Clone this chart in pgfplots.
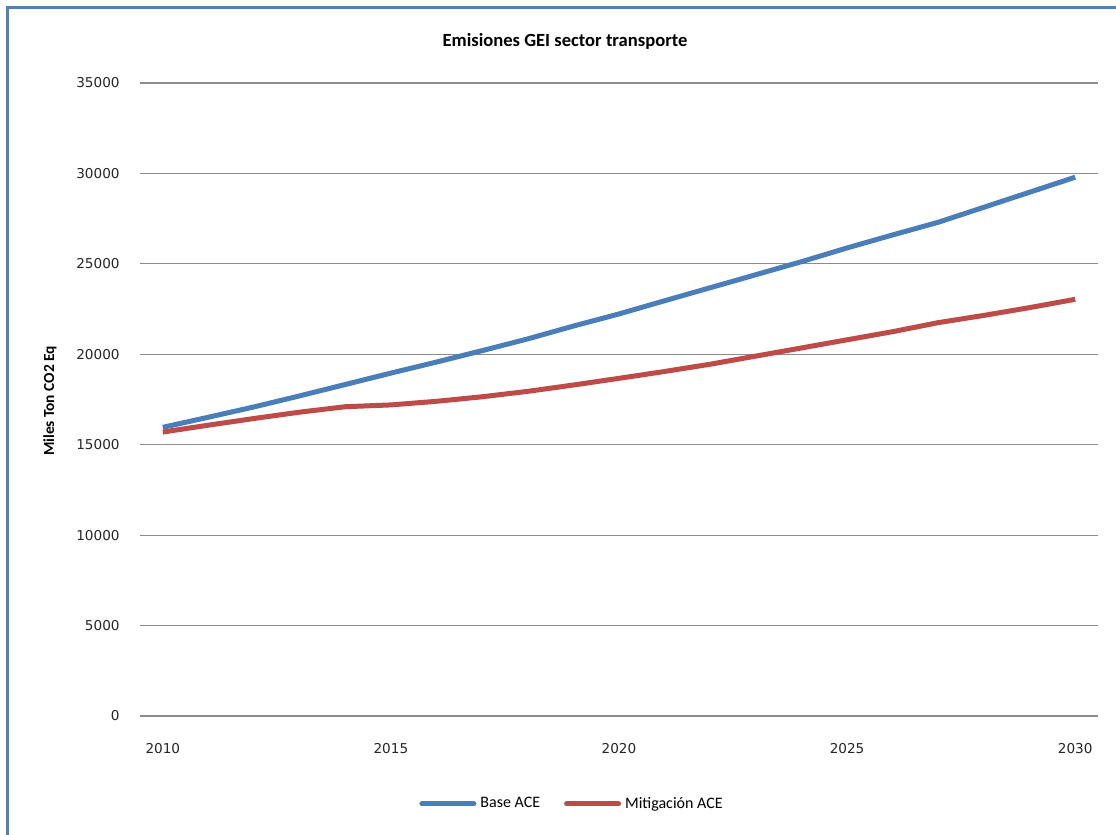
\documentclass[border=0pt]{standalone}
\usepackage{fontspec}
\setmainfont{Carlito}
\newfontfamily\dejavu{DejaVu Sans}
\usepackage{pgfplots}
\pgfplotsset{compat=1.18}

\definecolor{framecol}{RGB}{79,129,189}
\definecolor{baseblue}{RGB}{74,126,187}
\definecolor{mitred}{RGB}{190,75,72}
\definecolor{gridgray}{RGB}{140,140,140}

\begin{document}
\begin{tikzpicture}
\useasboundingbox (0,0) rectangle (558pt,417.5pt);
\fill[white] (0,0) rectangle (558pt,417.5pt);
% outer chart frame (left and top edges)
\draw[framecol, line width=1.5pt] (3.6pt,-2pt) -- (3.6pt,413.8pt) -- (560pt,413.8pt);

\begin{axis}[
  at={(70pt,59.5pt)}, anchor=south west,
  scale only axis,
  width=479pt, height=316.5pt,
  xmin=2009.5, xmax=2030.5,
  ymin=0, ymax=35000,
  xtick={2010,2015,2020,2025,2030},
  ytick={0,5000,...,35000},
  axis line style={draw=none},
  major tick length=0pt,
  ymajorgrids,
  grid style={gridgray, line width=0.6pt},
  /pgf/number format/1000 sep={},
  /pgf/number format/assume math mode=true,
  scaled y ticks=false,
  ticklabel style={font=\dejavu\fontsize{6.8}{8}\selectfont, text=black!85},
  yticklabel style={anchor=east, inner sep=0pt, xshift=-10pt},
  xticklabel style={anchor=north, inner sep=0pt, yshift=-13.5pt},
  legend columns=2,
  legend style={at={(0.452,-0.139)}, anchor=center, draw=none, fill=none,
    font=\fontsize{8}{9}\selectfont,
    /tikz/every even column/.append style={column sep=10pt}},
  legend cell align=left,
  legend image code/.code={\draw[#1, line cap=round] (0pt,0pt) -- (26pt,0pt);},
]
\addplot[baseblue, line width=2.5pt, line join=round] coordinates {
  (2010,15960) (2011,16520) (2012,17090) (2013,17700) (2014,18330)
  (2015,18960) (2016,19570) (2017,20200) (2018,20850) (2019,21560)
  (2020,22230) (2021,22960) (2022,23680) (2023,24400) (2024,25120)
  (2025,25880) (2026,26600) (2027,27300) (2028,28130) (2029,28960)
  (2030,29790)
};
\addlegendentry{Base ACE}
\addplot[mitred, line width=2.5pt, line join=round] coordinates {
  (2010,15700) (2011,16080) (2012,16450) (2013,16800) (2014,17100)
  (2015,17200) (2016,17400) (2017,17650) (2018,17950) (2019,18300)
  (2020,18670) (2021,19050) (2022,19450) (2023,19900) (2024,20350)
  (2025,20800) (2026,21250) (2027,21750) (2028,22150) (2029,22580)
  (2030,23040)
};
\addlegendentry{Mitigación ACE}
\end{axis}

\node[font=\bfseries\fontsize{9.3}{11}\selectfont] at (282.5pt,397pt) {Emisiones GEI sector transporte};
\node[font=\bfseries\fontsize{7.7}{9}\selectfont, rotate=90] at (25pt,217pt) {Miles Ton CO2 Eq};
\end{tikzpicture}
\end{document}
